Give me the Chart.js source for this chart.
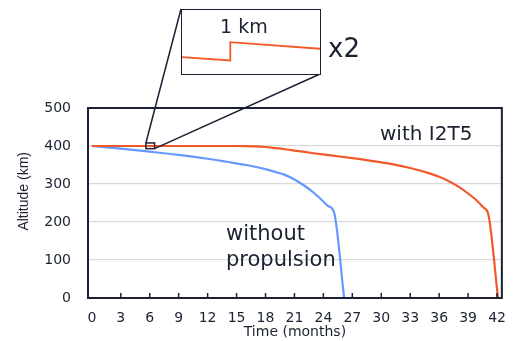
<!DOCTYPE html>
<html>
<head>
<meta charset="utf-8">
<script src="https://cdn.jsdelivr.net/npm/chart.js@4.4.1/dist/chart.umd.min.js"></script>
<style>
  html, body { margin: 0; padding: 0; background: #fff; overflow: hidden; }
  #wrap { position: relative; width: 518px; height: 341px; }
  #chart { position: absolute; left: 0; top: 0; }
  #insetBox { position: absolute; left: 181px; top: 9px; width: 138px; height: 64px; border: 1.5px solid #1b2034; background: #fff; }
  #inset { display: block; }
  .note { position: absolute; font-family: 'DejaVu Sans', sans-serif; color: #1b2232; white-space: nowrap; }
</style>
</head>
<body>
<div id="wrap">
  <canvas id="chart" width="518" height="341"></canvas>
  <div id="insetBox"><canvas id="inset" width="138" height="64"></canvas></div>
  <div class="note" style="left:220px;top:17px;font-size:19px;line-height:19px;">1 km</div>
  <div class="note" style="left:328px;top:35px;font-size:26px;line-height:26px;">x2</div>
  <div class="note" style="left:380px;top:123px;font-size:20px;line-height:20px;">with I2T5</div>
  <div class="note" style="left:226px;top:220px;font-size:21px;line-height:26px;">without<br>propulsion</div>
</div>
<script>
// ===== DATOS =====
const xTicks = [0, 3, 6, 9, 12, 15, 18, 21, 24, 27, 30, 33, 36, 39, 42];
const yTicks = [0, 100, 200, 300, 400, 500];

// with I2T5 (months, km)
const i2t5Months   = [0, 15, 16, 17, 18, 19, 20, 21, 23, 25, 27, 29, 31, 33, 35, 36, 37, 38, 39, 40, 40.6, 41.1, 42.1];
const i2t5Altitude = [400, 400, 399.8, 399, 397.3, 394.5, 391.5, 388, 381, 374.5, 368, 361, 353, 342, 328, 319, 307.5, 293, 275, 254, 238, 220, 0];

// without propulsion (months, km)
const noPropMonths   = [0, 3, 6, 9, 12, 14, 16, 18, 19, 20, 21, 22, 23, 24, 24.5, 25.1, 26.15];
const noPropAltitude = [400, 393, 385, 376.5, 366.5, 358.5, 350, 339, 332, 324, 312, 296, 277, 254, 242, 226, 0];

// detalle ampliado (fracción del recuadro, km)
const insetT        = [0, 0.35, 0.35, 1];
const insetAltitude = [399.98, 399.8, 400.8, 400.44];

// zona ampliada en el gráfico principal
const zoomBox = { t0: 5.6, t1: 6.5, a0: 393, a1: 408 };

// ===== ESTILOS =====
const RED = '#f2592a';
const BLUE = '#6699ff';
const NAVY = '#1b2034';
const TEXT = '#1b2232';

function toPoints(xs, ys) {
  return xs.map(function(x, i) { return { x: x, y: ys[i] }; });
}

// ===== MARCO, TICKS INTERIORES Y LÍNEAS DEL ZOOM =====
const framePlugin = {
  id: 'frame',
  afterDraw: function(chart) {
    const ctx = chart.ctx;
    const a = chart.chartArea;
    const xs = chart.scales.x;
    const ys = chart.scales.y;
    ctx.save();
    ctx.strokeStyle = NAVY;
    ctx.lineWidth = 2;
    ctx.strokeRect(a.left, a.top, a.right - a.left, a.bottom - a.top);

    ctx.lineWidth = 1.5;
    xs.ticks.forEach(function(t) {
      if (t.value === 0) return;
      const px = xs.getPixelForValue(t.value);
      ctx.beginPath();
      ctx.moveTo(px, a.bottom);
      ctx.lineTo(px, a.bottom - 5);
      ctx.stroke();
    });

    const bx0 = xs.getPixelForValue(zoomBox.t0);
    const bx1 = xs.getPixelForValue(zoomBox.t1);
    const by0 = ys.getPixelForValue(zoomBox.a1);
    const by1 = ys.getPixelForValue(zoomBox.a0);
    ctx.strokeRect(bx0, by0, bx1 - bx0, by1 - by0);

    const box = document.getElementById('insetBox');
    const l = box.offsetLeft;
    const tp = box.offsetTop;
    const r = l + box.offsetWidth - 1;
    const b = tp + box.offsetHeight - 1;
    ctx.beginPath();
    ctx.moveTo(bx0, by0);
    ctx.lineTo(l, tp);
    ctx.moveTo(bx1, by1);
    ctx.lineTo(r, b);
    ctx.stroke();
    ctx.restore();
  }
};

// ===== GRÁFICO PRINCIPAL =====
new Chart(document.getElementById('chart'), {
  type: 'line',
  data: {
    datasets: [
      { label: 'with I2T5', data: toPoints(i2t5Months, i2t5Altitude), borderColor: RED, borderWidth: 2.2,
        pointRadius: 0, cubicInterpolationMode: 'monotone' },
      { label: 'without propulsion', data: toPoints(noPropMonths, noPropAltitude), borderColor: BLUE, borderWidth: 2.2,
        pointRadius: 0, cubicInterpolationMode: 'monotone' }
    ]
  },
  options: {
    responsive: false,
    animation: false,
    devicePixelRatio: 1,
    layout: { padding: { top: 108, right: 5, bottom: 0, left: 0 } },
    plugins: { legend: { display: false }, tooltip: { enabled: false } },
    scales: {
      x: {
        type: 'linear', min: -0.4, max: 42.5,
        grid: { display: false, drawTicks: false },
        border: { display: false },
        afterBuildTicks: function(s) { s.ticks = xTicks.map(function(v) { return { value: v }; }); },
        afterFit: function(s) { s.height = 43; },
        ticks: { padding: 12, color: TEXT, autoSkip: false, maxRotation: 0,
                 font: { family: 'DejaVu Sans', size: 14 } },
        title: { display: true, text: 'Time (months)', color: TEXT, padding: { top: 0, bottom: 0 },
                 font: { family: 'DejaVu Sans', size: 14 } }
      },
      y: {
        min: 0, max: 500,
        grid: { color: '#d9d9d9', lineWidth: 1.3, drawTicks: false },
        border: { display: false },
        afterBuildTicks: function(s) { s.ticks = yTicks.map(function(v) { return { value: v }; }); },
        afterFit: function(s) { s.width = 88; },
        ticks: { padding: 17, color: TEXT, font: { family: 'DejaVu Sans', size: 14 } },
        title: { display: true, text: '      Altitude (km)', color: TEXT, padding: { top: 15.6, bottom: 0 },
                 font: { family: 'Liberation Sans', size: 14 } }
      }
    }
  },
  plugins: [framePlugin]
});

// ===== RECUADRO AMPLIADO =====
new Chart(document.getElementById('inset'), {
  type: 'line',
  data: {
    datasets: [{ data: toPoints(insetT, insetAltitude), borderColor: RED, borderWidth: 1.8, pointRadius: 0, tension: 0 }]
  },
  options: {
    responsive: false,
    animation: false,
    devicePixelRatio: 1,
    layout: { padding: 0 },
    plugins: { legend: { display: false }, tooltip: { enabled: false } },
    scales: {
      x: { type: 'linear', display: false, min: 0, max: 1 },
      y: { display: false, min: 399.06, max: 402.56 }
    }
  }
});
</script>
</body>
</html>
